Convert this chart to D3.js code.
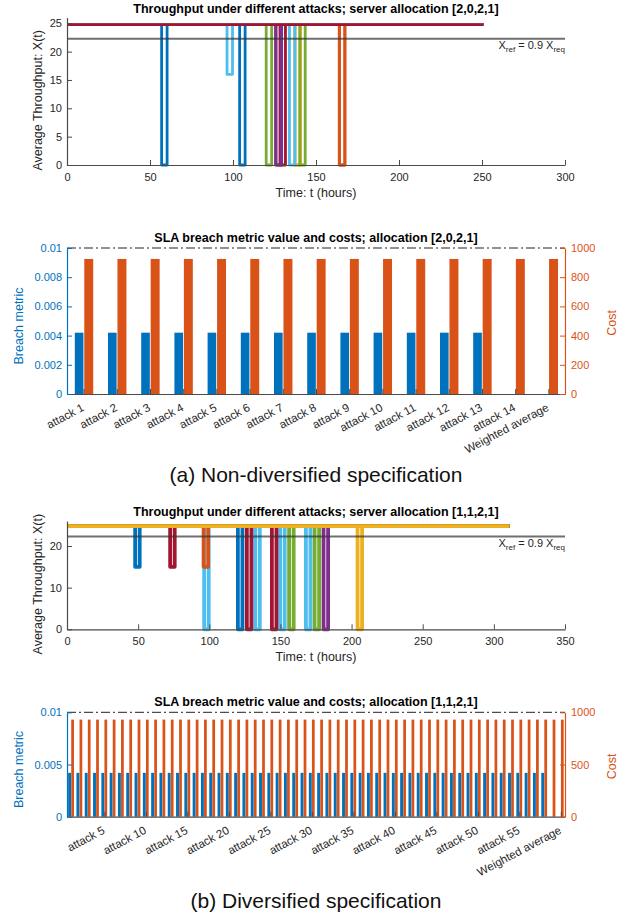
<!DOCTYPE html>
<html>
<head>
<meta charset="utf-8">
<script src="https://cdn.jsdelivr.net/npm/d3@7"></script>
<style>
  body { margin: 0; background: #fff; }
  svg { display: block; font-family: "Liberation Sans", Arial, Helvetica, sans-serif; }
</style>
</head>
<body>
<svg id="fig" width="628" height="924"></svg>
<script>
// ---- data -------------------------------------------------------------
const palette = ["#0072BD", "#D95319", "#EDB120", "#7E2F8E", "#77AC30", "#4DBEEE", "#A2142F"];
const xReq = 24.75;
const xRefFactor = 0.9;

// (a) non-diversified, throughput
const aTitle = "Throughput under different attacks; server allocation [2,0,2,1]";
const aNumAttacks = 14;
const aEndTime = 251;
const aDipAttack = [1, 2, 3, 4, 5, 6, 7, 8, 9, 10, 11, 12, 13];
const aDipStart  = [57, 164, 137.2, 126, 120, 96.4, 128.3, 104, 164.2, 137.4, 125.6, 140.2, 134];
const aDipEnd    = [60.3, 167.3, 140.5, 129.3, 123.3, 99.7, 131.6, 107.3, 167.5, 140.7, 128.9, 143.5, 137.3];
const aDipLevel  = [0, 0, 0, 0, 0, 16, 0, 0, 0, 0, 0, 0, 0];
const aXTicks = [0, 50, 100, 150, 200, 250, 300];
const aYTicks = [0, 5, 10, 15, 20, 25];

// (a) non-diversified, breach metric and cost
const aBarTitle = "SLA breach metric value and costs; allocation [2,0,2,1]";
const aBarLabels = ["attack 1", "attack 2", "attack 3", "attack 4", "attack 5", "attack 6", "attack 7",
  "attack 8", "attack 9", "attack 10", "attack 11", "attack 12", "attack 13", "attack 14", "Weighted average"];
const aBreach = [0.0042, 0.0042, 0.0042, 0.0042, 0.0042, 0.0042, 0.0042,
  0.0042, 0.0042, 0.0042, 0.0042, 0.0042, 0.0042, 0, 0];
const aCost = [925, 925, 925, 925, 925, 925, 925, 925, 925, 925, 925, 925, 925, 925, 925];
const aBreachTicks = [0, 0.002, 0.004, 0.006, 0.008, 0.01];
const aCostTicks = [0, 200, 400, 600, 800, 1000];

// (b) diversified, throughput
const bTitle = "Throughput under different attacks; server allocation [1,1,2,1]";
const bNumAttacks = 59;
const bEndTime = 311;
const bDipAttack = [1, 7, 6, 9, 8, 14, 13, 21, 20, 12, 27, 19, 4, 3];
const bDipStart  = [47.9, 72.5, 96.4, 96.0, 120.1, 126.4, 132.3, 144, 149.8, 156.1, 167.9, 174, 180.3, 204.2];
const bDipEnd    = [51.1, 75.7, 99.6, 99.2, 123.3, 129.6, 135.5, 147.2, 153, 159.3, 171.1, 177.2, 183.5, 207.4];
const bDipLevel  = [15, 15, 0, 15, 0, 0, 0, 0, 0, 0, 0, 0, 0, 0];
const bXTicks = [0, 50, 100, 150, 200, 250, 300, 350];
const bYTicks = [0, 10, 20];

// (b) diversified, breach metric and cost (attacks 1..59 + weighted average)
const bBarTitle = "SLA breach metric value and costs; allocation [1,1,2,1]";
const bBreach = [
  0.0042, 0.0042, 0.0042, 0.0042, 0.0042, 0.0042, 0.0042, 0.0042, 0.0042, 0.0042,
  0.0042, 0.0042, 0.0042, 0.0042, 0.0042, 0.0042, 0.0042, 0.0042, 0.0042, 0.0042,
  0.0042, 0.0042, 0.0042, 0.0042, 0.0042, 0.0042, 0.0042, 0.0042, 0.0042, 0.0042,
  0.0042, 0.0042, 0.0042, 0.0042, 0.0042, 0.0042, 0.0042, 0.0042, 0.0042, 0.0042,
  0.0042, 0.0042, 0.0042, 0.0042, 0.0042, 0.0042, 0.0042, 0.0042, 0.0042, 0.0042,
  0.0042, 0.0042, 0.0042, 0.0042, 0.0042, 0.0042, 0.0042, 0.0042, 0, 0];
const bCost = [
  930, 930, 930, 930, 930, 930, 930, 930, 930, 930,
  930, 930, 930, 930, 930, 930, 930, 930, 930, 930,
  930, 930, 930, 930, 930, 930, 930, 930, 930, 930,
  930, 930, 930, 930, 930, 930, 930, 930, 930, 930,
  930, 930, 930, 930, 930, 930, 930, 930, 930, 930,
  930, 930, 930, 930, 930, 930, 930, 930, 930, 930];
const bBarTickPos = [5, 10, 15, 20, 25, 30, 35, 40, 45, 50, 55, 60];
const bBarTickLabels = ["attack 5", "attack 10", "attack 15", "attack 20", "attack 25", "attack 30",
  "attack 35", "attack 40", "attack 45", "attack 50", "attack 55", "Weighted average"];
const bBreachTicks = [0, 0.005, 0.01];
const bCostTicks = [0, 500, 1000];

// ---- drawing ----------------------------------------------------------
const svg = d3.select("#fig");
const L = 67, R = 565;
const txt = "#262626";
const axCol = "#4a4a4a";
const num = d3.format("~g");

function styleAxis(g, color, size) {
  g.attr("font-family", null).attr("font-size", size || 11);
  g.selectAll(".domain").attr("stroke", color).attr("stroke-width", 1.2);
  g.selectAll(".tick line").attr("stroke", color).attr("stroke-width", 1);
  g.selectAll(".tick text").attr("fill", color === axCol ? txt : color);
}

function drawThroughput(c) {
  const g = svg.append("g");
  const x = d3.scaleLinear().domain([0, c.xMax]).range([L, R]);
  const y = d3.scaleLinear().domain([0, 26]).range([c.bottom, c.top]);
  const line = d3.line().x(d => x(d[0])).y(d => y(d[1]));

  for (let k = 1; k <= c.n; k++) {
    const pts = [[0, xReq]];
    c.dipAttack.forEach((a, i) => {
      if (a === k) {
        pts.push([c.dipStart[i], xReq], [c.dipStart[i], c.dipLevel[i]],
                 [c.dipEnd[i], c.dipLevel[i]], [c.dipEnd[i], xReq]);
      }
    });
    pts.push([c.end, xReq]);
    g.append("path")
      .attr("d", line(pts))
      .attr("fill", "none")
      .attr("stroke", palette[(k - 1) % 7])
      .attr("stroke-width", c.lw)
      .attr("stroke-linejoin", "round");
  }

  // reference line
  g.append("line")
    .attr("x1", x(0)).attr("x2", x(c.xMax))
    .attr("y1", y(xRefFactor * xReq)).attr("y2", y(xRefFactor * xReq))
    .attr("stroke", "#333").attr("stroke-opacity", 0.7).attr("stroke-width", 2);

  const lab = g.append("text")
    .attr("x", R).attr("y", y(xRefFactor * xReq) + 10.5)
    .attr("text-anchor", "end").attr("font-size", 11).attr("fill", txt);
  lab.append("tspan").text("X");
  lab.append("tspan").text("ref").attr("font-size", 8).attr("dy", 2.5);
  lab.append("tspan").text(" = " + xRefFactor + " X").attr("dy", -2.5);
  lab.append("tspan").text("req").attr("font-size", 8).attr("dy", 2.5);

  const gx = g.append("g").attr("transform", `translate(0,${c.bottom})`)
    .call(d3.axisBottom(x).tickValues(c.xTicks).tickSize(-5).tickSizeOuter(0).tickPadding(8));
  styleAxis(gx, axCol);
  const gy = g.append("g").attr("transform", `translate(${L},0)`)
    .call(d3.axisLeft(y).tickValues(c.yTicks).tickSize(-5).tickSizeOuter(0).tickPadding(5));
  styleAxis(gy, axCol);

  g.append("text").attr("x", (L + R) / 2).attr("y", c.titleY)
    .attr("text-anchor", "middle").attr("font-weight", "bold").attr("font-size", 12.5)
    .attr("fill", "#000").text(c.title);
  g.append("text").attr("x", (L + R) / 2).attr("y", c.bottom + 32)
    .attr("text-anchor", "middle").attr("font-size", 12.5).attr("fill", txt)
    .text("Time: t (hours)");
  g.append("text")
    .attr("transform", `translate(42,${(c.top + c.bottom) / 2 + 9}) rotate(-90)`)
    .attr("text-anchor", "middle").attr("font-size", 12.5).attr("fill", txt)
    .text("Average Throughput: X(t)");
}

function drawBars(c) {
  const g = svg.append("g");
  const n = c.breach.length;
  const x = d3.scaleLinear().domain([0.5, n + 0.5]).range([L, R]);
  const yL = d3.scaleLinear().domain([0, 0.01]).range([c.bottom, c.top]);
  const yR = d3.scaleLinear().domain([0, 1000]).range([c.bottom, c.top]);

  g.selectAll("rect.breach").data(c.breach).join("rect")
    .attr("x", (d, i) => x(i + 1 + c.bOff[0]))
    .attr("width", (d, i) => x(i + 1 + c.bOff[1]) - x(i + 1 + c.bOff[0]))
    .attr("y", d => yL(d))
    .attr("height", d => yL(0) - yL(d))
    .attr("fill", palette[0]);
  g.selectAll("rect.cost").data(c.cost).join("rect")
    .attr("x", (d, i) => x(i + 1 + c.cOff[0]))
    .attr("width", (d, i) => x(i + 1 + c.cOff[1]) - x(i + 1 + c.cOff[0]))
    .attr("y", d => yR(d))
    .attr("height", d => yR(0) - yR(d))
    .attr("fill", palette[1]);

  // top dash-dot limit
  g.append("line")
    .attr("x1", L).attr("x2", R).attr("y1", yL(0.01)).attr("y2", yL(0.01))
    .attr("stroke", "#222").attr("stroke-width", 1).attr("stroke-dasharray", "9,3,2,3");

  const gx = g.append("g").attr("transform", `translate(0,${c.bottom})`)
    .call(d3.axisBottom(x).tickValues(c.tickPos).tickFormat((d, i) => c.tickLabels[i])
      .tickSize(-5).tickSizeOuter(0).tickPadding(0));
  styleAxis(gx, axCol, 11.5);
  gx.selectAll(".tick text")
    .attr("text-anchor", "end")
    .attr("y", null).attr("dy", null)
    .attr("transform", "translate(-3,9) rotate(-28)")
    .attr("dominant-baseline", "hanging");

  const gl = g.append("g").attr("transform", `translate(${L},0)`)
    .call(d3.axisLeft(yL).tickValues(c.breachTicks).tickFormat(num)
      .tickSize(-5).tickSizeOuter(0).tickPadding(5));
  styleAxis(gl, palette[0]);
  const gr = g.append("g").attr("transform", `translate(${R},0)`)
    .call(d3.axisRight(yR).tickValues(c.costTicks).tickFormat(num)
      .tickSize(-5).tickSizeOuter(0).tickPadding(6));
  styleAxis(gr, palette[1]);

  g.append("text").attr("x", (L + R) / 2).attr("y", c.top - 6)
    .attr("text-anchor", "middle").attr("font-weight", "bold").attr("font-size", 12.5)
    .attr("fill", "#000").text(c.title);
  g.append("text")
    .attr("transform", `translate(23,${(c.top + c.bottom) / 2 + 5}) rotate(-90)`)
    .attr("text-anchor", "middle").attr("font-size", 12.5).attr("fill", palette[0])
    .text("Breach metric");
  g.append("text")
    .attr("transform", `translate(616,${(c.top + c.bottom) / 2 + 2}) rotate(-90)`)
    .attr("text-anchor", "middle").attr("font-size", 12.5).attr("fill", palette[1])
    .text("Cost");
}

drawThroughput({
  title: aTitle, titleY: 13, top: 17.6, bottom: 165, xMax: 300, lw: 2.8,
  n: aNumAttacks, end: aEndTime, dipAttack: aDipAttack, dipStart: aDipStart,
  dipEnd: aDipEnd, dipLevel: aDipLevel, xTicks: aXTicks, yTicks: aYTicks
});

drawBars({
  title: aBarTitle, top: 248, bottom: 394,
  breach: aBreach, cost: aCost, bOff: [-0.265, -0.005], cOff: [0.02, 0.29],
  tickPos: aBarLabels.map((d, i) => i + 1), tickLabels: aBarLabels,
  breachTicks: aBreachTicks, costTicks: aCostTicks
});

drawThroughput({
  title: bTitle, titleY: 516, top: 521, bottom: 629.3, xMax: 350, lw: 3.8,
  n: bNumAttacks, end: bEndTime, dipAttack: bDipAttack, dipStart: bDipStart,
  dipEnd: bDipEnd, dipLevel: bDipLevel, xTicks: bXTicks, yTicks: bYTicks
});

drawBars({
  title: bBarTitle, top: 712.3, bottom: 816.7,
  breach: bBreach, cost: bCost, bOff: [-0.36, -0.01], cOff: [0.01, 0.34],
  tickPos: bBarTickPos, tickLabels: bBarTickLabels,
  breachTicks: bBreachTicks, costTicks: bCostTicks
});

svg.append("text").attr("x", 316).attr("y", 482)
  .attr("text-anchor", "middle").attr("font-size", 21).attr("fill", "#111")
  .text("(a) Non-diversified specification");
svg.append("text").attr("x", 316).attr("y", 908)
  .attr("text-anchor", "middle").attr("font-size", 21).attr("fill", "#111")
  .text("(b) Diversified specification");
</script>
</body>
</html>
